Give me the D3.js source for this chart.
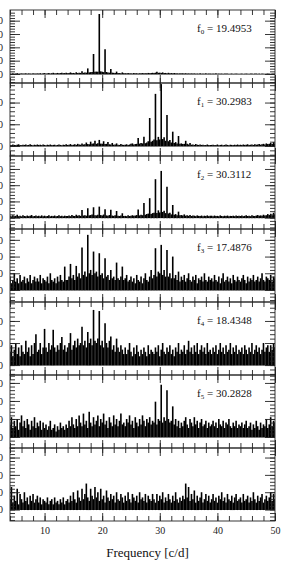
<!DOCTYPE html>
<html>
<head>
<meta charset="utf-8">
<script src="https://d3js.org/d3.v7.min.js"></script>
<style>
  html, body { margin: 0; padding: 0; background: #fff; }
  svg { display: block; font-family: "Liberation Serif", "DejaVu Serif", serif; }
</style>
</head>
<body>
<svg id="chart" width="290" height="566"></svg>
<script>
// amplitude spectra, sampled every 0.25 c/d from 4 to 50 c/d
var freqStart = 4, freqStep = 0.25;

var amp0 = [
  0.4,0.3,0.5,0.3,0.4,0.6,0.3,0.4,0.5,0.3,0.4,0.6,0.3,0.5,0.4,0.3,0.6,0.4,0.3,0.5,
  0.4,0.6,0.3,0.5,0.7,0.4,0.5,0.8,0.4,0.6,0.9,0.5,0.6,0.8,0.5,0.7,1.0,0.6,0.7,1.0,
  0.6,0.8,1.2,0.7,0.8,0.6,1.3,0.7,1.0,0.8,2.0,0.9,1.2,1.0,4.2,1.2,1.4,1.5,15,1.6,
  1.8,1.6,45,2.0,1.6,1.4,18.5,1.5,1.2,1.0,3.8,1.0,0.9,0.8,1.8,0.8,0.7,0.6,1.2,0.6,
  0.6,0.5,0.8,0.5,0.6,0.4,0.7,0.5,0.6,0.4,0.6,0.5,0.7,0.5,0.6,0.5,0.8,0.6,0.7,0.9,
  0.8,1.0,1.6,0.9,1.0,0.8,1.2,0.7,0.8,0.6,0.9,0.6,0.7,0.5,0.7,0.5,0.6,0.4,0.6,0.5,
  0.5,0.4,0.6,0.4,0.5,0.3,0.5,0.4,0.5,0.3,0.4,0.3,0.5,0.3,0.4,0.3,0.5,0.3,0.4,0.3,
  0.3,0.4,0.3,0.5,0.3,0.4,0.3,0.4,0.2,0.4,0.3,0.4,0.2,0.3,0.4,0.2,0.3,0.4,0.3,0.2,
  0.3,0.4,0.2,0.3,0.4,0.3,0.2,0.4,0.3,0.2,0.3,0.4,0.2,0.3,0.2,0.4,0.3,0.2,0.3,0.4,
  0.3,0.2,0.3,0.4,0.3
];
var amp1 = [
  0.5,0.4,0.7,0.5,0.4,0.6,0.8,0.5,0.4,0.6,0.5,0.7,0.4,0.5,0.8,0.5,0.4,0.6,0.5,0.7,
  0.5,0.6,0.4,0.7,0.5,0.4,0.6,0.5,0.7,0.4,0.5,0.6,0.4,0.5,0.7,0.5,0.4,0.6,0.5,0.8,
  0.5,0.6,0.9,0.5,0.6,0.8,0.5,1.0,0.7,0.6,1.2,0.7,0.8,1.6,0.9,0.8,2.0,1.0,1.2,2.4,
  1.0,1.3,2.8,1.1,1.0,2.2,0.9,1.0,1.8,0.8,0.7,1.4,0.6,0.7,1.2,0.6,0.5,0.9,0.6,0.5,
  0.6,0.8,0.5,0.7,1.0,1.2,0.7,0.9,1.0,3.7,1.1,1.4,1.2,4.3,1.3,1.6,2.2,12.9,2.0,2.4,
  3.0,24,2.6,4.2,3.0,28.5,3.2,4.0,2.4,14.3,2.2,2.8,1.6,6.6,1.4,1.8,1.2,4.6,1.0,1.2,
  0.9,1.0,2.4,1.0,0.7,1.4,0.6,0.7,0.5,0.9,0.6,0.5,0.7,0.5,0.6,0.4,0.5,0.7,0.4,0.5,
  0.5,0.6,0.4,0.5,0.7,0.4,0.5,0.6,0.4,0.5,0.7,0.5,0.4,0.6,0.5,0.4,0.6,0.5,0.7,0.5,
  0.6,0.5,0.7,0.5,0.6,0.8,0.5,0.6,0.7,0.5,0.8,0.6,0.7,0.9,0.6,0.8,1.0,0.7,1.2,0.9,
  1.0,1.4,0.9,1.8,1.2
];
var amp2 = [
  1.2,0.8,1.5,0.9,1.1,1.8,0.9,1.2,0.8,1.4,1.0,0.8,1.3,0.9,1.1,1.6,0.8,1.0,1.3,0.9,
  1.1,0.8,1.4,0.9,1.2,0.8,1.0,1.5,0.8,1.1,0.9,1.3,0.8,1.0,1.4,0.9,1.1,0.8,1.2,1.0,
  1.0,1.3,0.9,1.6,1.1,1.0,1.8,1.2,1.4,1.1,4.7,1.3,1.5,1.2,5.8,1.4,1.6,2.0,6.4,1.5,
  1.4,1.8,6.8,1.6,1.3,1.9,5.2,1.4,1.2,1.6,4.8,1.3,1.1,1.4,4.1,1.2,1.0,1.3,2.7,1.0,
  1.1,0.9,1.4,1.0,1.2,1.5,1.1,1.3,1.6,5.0,1.4,1.8,1.5,9.0,1.8,2.2,2.5,12,2.3,2.8,
  3.0,23.7,2.8,4.5,3.2,28.8,3.5,4.2,2.8,19,2.6,3.0,2.0,7.8,1.8,2.2,1.5,3.7,1.4,1.6,
  1.3,2.0,1.2,1.5,1.1,1.6,1.0,1.3,1.2,0.9,1.4,1.1,1.0,1.3,0.9,1.2,1.0,1.4,0.9,1.1,
  1.2,0.9,1.3,1.0,1.1,0.8,1.4,1.0,0.9,1.2,1.0,1.3,0.9,1.1,1.0,1.2,0.9,1.3,1.0,1.1,
  1.0,1.3,0.9,1.1,1.4,1.0,1.2,0.9,1.5,1.1,1.0,1.3,1.6,1.1,1.4,1.2,1.8,1.3,1.5,2.2,
  1.6,2.4,1.4,3.0,1.8
];
var amp3 = [
  8,4,6,10,5,7,4,9,5,6,8,4,7,5,9,4,6,8,5,7,
  5,9,4,7,6,5,8,4,10,6,5,7,4,8,5,9,6,5,14,6,
  6,8,15.6,7,9,6,14.4,8,10,7,25.5,9,11,8,33,10,12,9,23,10,
  11,8,22,9,10,7,19,8,9,6,12,7,8,6,16.4,7,6,8,14,6,
  7,9,5,6,8,5,7,4,9,6,5,8,4,7,10,6,5,8,12,7,
  9,25,8,11,10,27,9,12,8,24,8,10,7,20,7,9,6,11,5,8,
  6,9,5,7,10,6,5,8,6,9,4,7,6,8,5,10,6,5,8,6,
  7,5,9,6,5,8,4,7,10,5,6,8,5,7,4,9,6,5,8,6,
  5,7,9,6,4,8,5,7,6,9,5,6,8,5,7,10,6,5,8,7,
  6,9,5,8,7
];
var amp4 = [
  6,9,4,7,10,5,8,4,9,6,5,11,6,8,4,9,5,10,14,6,
  7,10,5,8,16.4,8,6,10,7,9,16,8,6,9,7,10,12.7,7,9,6,
  8,10,14.5,7,9,11,8,12,9,10,17.4,9,11,8,15,10,12,9,25,11,
  10,12,24.5,9,11,8,19,10,8,11,13,7,9,6,12,8,6,9,7,5,
  8,5,7,10,6,4,8,5,9,6,4,7,5,8,6,4,9,5,7,6,
  5,8,6,9,4,7,10,6,5,8,6,9,5,7,4,8,6,10,5,7,
  6,9,5,7,11,6,8,5,9,6,10,5,7,9,6,8,5,10,6,7,
  5,8,6,9,5,7,10,6,8,5,9,6,7,10,5,8,6,9,5,7,
  6,8,5,9,7,5,8,6,10,5,7,9,6,8,5,7,10,6,8,9,
  6,9,7,10,8
];
var amp5 = [
  7,11,5,9,6,10,4,8,12,6,9,5,10,7,4,9,6,11,5,8,
  6,9,4,8,5,7,4,6,9,4,5,7,3,6,4,8,5,6,4,7,
  5,9,6,11,7,5,10,6,12,8,6,13,7,9,5,14,8,6,11,7,
  9,12,6,10,8,13,7,9,5,11,8,6,12,7,10,6,9,13,7,8,
  6,10,8,12,7,9,5,11,8,6,10,7,12,9,6,10,8,11,7,9,
  8,19.6,7,10,9,29,8,11,9,26,10,8,9,17,7,10,6,9,5,8,
  6,9,11,7,5,10,8,6,11,7,9,5,8,10,6,7,9,5,8,6,
  7,9,6,8,5,10,7,6,9,5,8,7,10,6,5,8,6,9,5,7,
  6,8,5,7,9,5,6,8,4,7,5,9,6,4,8,5,7,6,10,5,
  7,11,6,9,8
];
var amp6 = [
  6,13,4,8,5,12,3,9,6,4,10,5,7,3,8,5,9,4,6,8,
  4,7,3,6,5,4,7,3,5,6,3,7,4,5,3,6,4,7,3,5,
  6,4,8,5,10,6,4,11,7,5,12,6,9,15,7,5,12,8,6,13,
  7,10,5,12,6,8,4,11,7,5,9,6,8,4,10,6,5,9,7,4,
  8,5,10,6,4,9,7,5,8,4,10,6,7,5,9,4,8,6,5,9,
  6,4,9,5,8,6,10,4,7,5,9,6,4,8,5,10,6,4,7,5,
  8,6,15,7,13,5,9,6,11,4,8,5,7,10,4,6,9,5,8,4,
  6,9,5,7,4,8,6,10,5,7,4,9,6,5,8,4,7,9,5,6,
  7,4,9,5,6,8,4,7,5,10,6,4,8,5,7,9,4,6,8,5,
  7,10,5,9,6
];

var series = [amp0, amp1, amp2, amp3, amp4, amp5, amp6];
var peakIdx = ['0', '1', '2', '3', '4', '5', null];
var peakFreq = ['19.4953', '30.2983', '30.3112', '17.4876', '18.4348', '30.2828', null];
var yLow = [-6.75, -4.6, -7, -7.2, -4.5, -6.1, -6.6];
var yHigh = [48, 29, 38, 36.5, 28.6, 34.4, 35.5];
var xMajor = [10, 20, 30, 40, 50];
var xMinor = d3.range(4, 50.01, 2);

var left = 10, right = 275, top0 = 10, panelH = 73;
var svg = d3.select('#chart');
var x = d3.scaleLinear().domain([4, 50]).range([left, right]);

function styleAxis(sel) {
  sel.select('.domain').remove();
  sel.selectAll('.tick line').attr('stroke', '#222').attr('stroke-width', 0.9);
  sel.selectAll('.tick text').attr('fill', '#222').style('font-size', '10px')
    .style('font-family', '"Liberation Serif", "DejaVu Serif", serif');
}

series.forEach(function(vals, p) {
  var yt = top0 + p * panelH, yb = yt + panelH;
  var y = d3.scaleLinear().domain([yLow[p], yHigh[p]]).range([yb, yt]);
  var g = svg.append('g').attr('class', 'panel');

  g.append('clipPath').attr('id', 'clip' + p)
    .append('rect').attr('x', left).attr('y', yt).attr('width', right - left).attr('height', panelH);

  g.append('g').attr('clip-path', 'url(#clip' + p + ')')
    .selectAll('line')
    .data(vals)
    .enter().append('line')
      .attr('x1', function(d, i) { return x(freqStart + i * freqStep); })
      .attr('x2', function(d, i) { return x(freqStart + i * freqStep); })
      .attr('y1', y(0) + 0.5)
      .attr('y2', function(d) { return y(d); })
      .attr('stroke', '#000')
      .attr('stroke-width', 1.6)
  ;

  var yMajor = d3.range(0, yHigh[p], 10);
  var yMinor = d3.range(Math.ceil(yLow[p] / 2) * 2, yHigh[p], 2);

  // left
  g.append('g').attr('transform', 'translate(' + left + ',0)')
    .call(d3.axisLeft(y).tickValues(yMinor).tickSize(-5).tickFormat(''))
    .call(styleAxis);
  g.append('g').attr('transform', 'translate(' + left + ',0)')
    .call(d3.axisLeft(y).tickValues(yMajor).tickSize(-10).tickPadding(7).tickFormat(d3.format('d')))
    .call(styleAxis);
  // right
  g.append('g').attr('transform', 'translate(' + right + ',0)')
    .call(d3.axisRight(y).tickValues(yMinor).tickSize(-5).tickFormat(''))
    .call(styleAxis);
  g.append('g').attr('transform', 'translate(' + right + ',0)')
    .call(d3.axisRight(y).tickValues(yMajor).tickSize(-10).tickFormat(''))
    .call(styleAxis);
  // top
  g.append('g').attr('transform', 'translate(0,' + yt + ')')
    .call(d3.axisTop(x).tickValues(xMinor).tickSize(-5).tickFormat(''))
    .call(styleAxis);
  g.append('g').attr('transform', 'translate(0,' + yt + ')')
    .call(d3.axisTop(x).tickValues(xMajor).tickSize(-8).tickFormat(''))
    .call(styleAxis);
  // bottom
  g.append('g').attr('transform', 'translate(0,' + yb + ')')
    .call(d3.axisBottom(x).tickValues(xMinor).tickSize(-5).tickFormat(''))
    .call(styleAxis);
  var bottomAxis = d3.axisBottom(x).tickValues(xMajor).tickSize(-8).tickPadding(6);
  if (p < series.length - 1) bottomAxis.tickFormat('');
  g.append('g').attr('transform', 'translate(0,' + yb + ')')
    .call(bottomAxis)
    .call(styleAxis);

  g.append('rect')
    .attr('x', left).attr('y', yt).attr('width', right - left).attr('height', panelH)
    .attr('fill', 'none').attr('stroke', '#222').attr('stroke-width', 0.9);

  if (peakIdx[p] !== null) {
    var t = g.append('text').attr('x', 197).attr('y', yt + 22)
      .style('font-size', '11px').attr('fill', '#111');
    t.append('tspan').text('f');
    t.append('tspan').attr('dy', 2).style('font-size', '7px').text(peakIdx[p]);
    t.append('tspan').attr('dy', -2).text(' = ' + peakFreq[p]);
  }
});

svg.append('text')
  .attr('x', (left + right) / 2 + 5).attr('y', 557)
  .attr('text-anchor', 'middle')
  .style('font-size', '13px').attr('fill', '#111')
  .text('Frequency [c/d]');
</script>
</body>
</html>
